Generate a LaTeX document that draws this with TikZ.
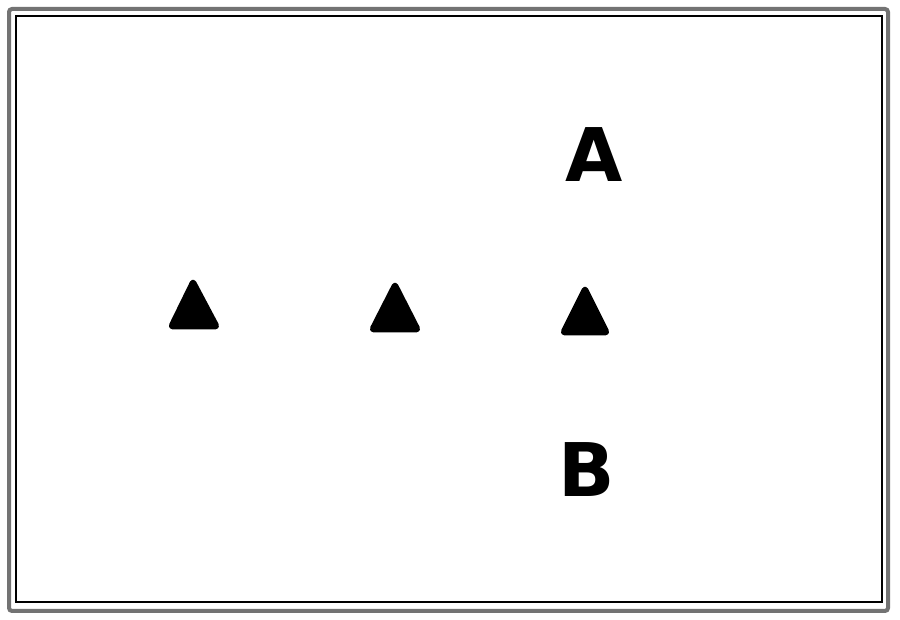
\documentclass[tikz,border=0pt]{standalone}
\usepackage{fontspec}
\setmainfont{DejaVu Sans}
\begin{document}
\begin{tikzpicture}[x=1pt,y=1pt,
  frameout/.style={draw=black!55,line width=4pt,rounded corners=3pt},
  framein/.style={draw=black,line width=2pt},
  cone/.style={fill=black,draw=black,line width=3pt,line join=round,rounded corners=4pt},
  letter/.style={font=\fontsize{74}{74}\selectfont\bfseries,inner sep=0pt,text=black}]
\useasboundingbox (0,0) rectangle (900,620);
\draw[frameout] (9,9) rectangle (888,611);
\draw[framein] (16,18) rectangle (882,604);
\fill[cone] (193,341) -- (219,292) -- (169,292) -- cycle;
\fill[cone] (395,338) -- (420,289) -- (370,289) -- cycle;
\fill[cone] (585,334) -- (609,286) -- (561,286) -- cycle;
\node[letter] (A) at (594,465) {A};
\node[letter] (B) at (587,150) {B};
\end{tikzpicture}
\end{document}
